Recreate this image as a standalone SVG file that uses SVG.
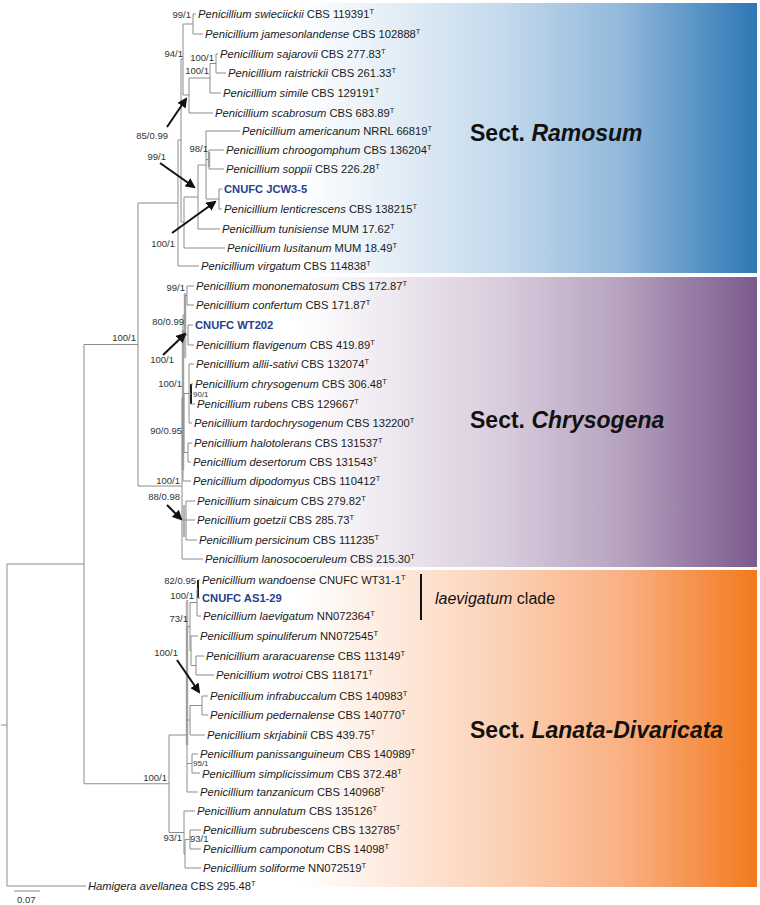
<svg xmlns="http://www.w3.org/2000/svg" width="760" height="905" viewBox="0 0 760 905">
<defs>
<linearGradient id="gR" gradientUnits="userSpaceOnUse" x1="300" y1="0" x2="757" y2="0">
<stop offset="0" stop-color="#ffffff"/><stop offset="0.45" stop-color="#c3d9ec"/><stop offset="0.7" stop-color="#93b9dc"/><stop offset="1" stop-color="#2d77b5"/>
</linearGradient>
<linearGradient id="gC" gradientUnits="userSpaceOnUse" x1="300" y1="0" x2="757" y2="0">
<stop offset="0" stop-color="#ffffff"/><stop offset="0.45" stop-color="#d8cbdc"/><stop offset="0.7" stop-color="#b7a3c0"/><stop offset="1" stop-color="#7a5a8c"/>
</linearGradient>
<linearGradient id="gL" gradientUnits="userSpaceOnUse" x1="300" y1="0" x2="757" y2="0">
<stop offset="0" stop-color="#ffffff"/><stop offset="0.45" stop-color="#fcd0b4"/><stop offset="0.7" stop-color="#fab185"/><stop offset="1" stop-color="#f27a1e"/>
</linearGradient>
<marker id="ah" markerWidth="5" markerHeight="5" refX="4" refY="2.5" orient="auto" markerUnits="strokeWidth">
<path d="M0,0 L5,2.5 L0,5 z" fill="#111"/>
</marker>
<style>
.b{stroke:#8c8c8c;stroke-width:1;fill:none}
.k{stroke:#222;stroke-width:2;fill:none}
.g{stroke:#b5b5b5;stroke-width:2.5;fill:none}
.t{font-family:"Liberation Sans",Arial,sans-serif;font-size:11.2px;fill:#1a1a1a}
.i{font-style:italic}
.s{font-size:7.5px}
.c{font-family:"Liberation Sans",Arial,sans-serif;font-size:11.2px;font-weight:bold;fill:#263f8f}
.n{font-family:"Liberation Sans",Arial,sans-serif;font-size:9.5px;fill:#333;text-anchor:end}
.ns{font-family:"Liberation Sans",Arial,sans-serif;font-size:9.5px;fill:#333}
.sm{font-family:"Liberation Sans",Arial,sans-serif;font-size:8px;fill:#333}
.a{stroke:#111;stroke-width:2;fill:none;marker-end:url(#ah)}
.sec{font-family:"Liberation Sans",Arial,sans-serif;font-size:23px;font-weight:bold;fill:#111}
</style>
</defs>
<rect width="760" height="905" fill="#ffffff"/>
<g id="bands">
<rect x="180" y="3" width="577" height="270" fill="url(#gR)"/>
<rect x="180" y="277" width="577" height="290" fill="url(#gC)"/>
<rect x="180" y="570" width="577" height="317" fill="url(#gL)"/>
</g>
<g id="connectors">
<path class="g" d="M209,152V167 M185,293V358 M183,330V470 M184,505V537 M187,600V745"/>
<path class="b" d="M193,14V34 M193,14H196 M193,34H203 M183,24H193"/>
<path class="b" d="M216,54V73 M216,54H218 M216,73H226 M210,63.5H216"/>
<path class="b" d="M210,63.5V93 M210,93H221 M189,78H210"/>
<path class="b" d="M189,78V113 M189,113H213 M183,95H189"/>
<path class="b" d="M183,24V95 M181,59H183"/>
<path class="b" d="M209,150V169 M209,150H224 M209,169H224 M206,159.5H209"/>
<path class="b" d="M219,189V209 M219,189H222 M219,209H222 M206,199H219"/>
<path class="b" d="M206,131V199 M206,131H240 M198,165H206"/>
<path class="b" d="M198,165V229 M198,229H220 M184,197H198"/>
<path class="b" d="M184,197V248 M184,248H225 M181,222H184"/>
<path class="b" d="M181,59V222 M178,140H181"/>
<path class="b" d="M178,140V266 M178,266H199 M138,203H178"/>
<path class="b" d="M138,203V486 M84,344.5H138"/>
<path class="b" d="M187,286V305 M187,286H194 M187,305H194 M185,295.5H187"/>
<path class="b" d="M188,325V345 M188,325H193 M188,345H194 M185,335H188"/>
<path class="b" d="M185,295.5V335 M183,315H185"/>
<path class="k" d="M191,384V404"/>
<path class="b" d="M191,384H193 M191,404H195 M189,394H191"/>
<path class="b" d="M189,364V423 M189,364H194 M189,423H192 M184,393.5H189"/>
<path class="b" d="M188,443V462 M188,443H192 M188,462H191 M184,452.5H188"/>
<path class="b" d="M184,393.5V452.5 M183,423H184"/>
<path class="b" d="M183,315V481 M183,481H191 M182,398H183"/>
<path class="b" d="M186,501V540 M186,501H195 M186,520H195 M186,540H197 M182,520H186"/>
<path class="b" d="M182,398V559 M182,559H203 M138,486H182"/>
<path class="k" d="M198,580V598"/>
<path class="b" d="M198,580H200 M198,598H200 M197,589H198"/>
<path class="b" d="M197,589V616 M197,616H201 M190,602.5H197"/>
<path class="b" d="M196,656V675 M196,656H204 M196,675H214 M191,665.5H196"/>
<path class="b" d="M191,636V665.5 M191,636H198 M190,650.75H191"/>
<path class="b" d="M190,602.5V650.75 M187,626.6H190"/>
<path class="b" d="M202,696V715 M202,696H208 M202,715H208 M190,705.5H202"/>
<path class="b" d="M190,705.5V735 M190,735H205 M187,720H190"/>
<path class="b" d="M192,754V773 M192,754H198 M192,773H200 M187,763.5H192"/>
<path class="b" d="M187,626.6V792 M187,792H198 M169,735H187"/>
<path class="b" d="M190,830V849 M190,830H201 M190,849H201 M185,839.5H190"/>
<path class="b" d="M185,839.5V868 M185,868H201 M184,854H185"/>
<path class="b" d="M184,811V854 M184,811H195 M169,832.5H184"/>
<path class="b" d="M169,735V832.5 M84,783.75H169"/>
<path class="b" d="M84,344.5V783.75 M7,564H84"/>
<path class="b" d="M7,564V886 M7,886H86 M1,725H7"/>
<path class="b" d="M14,891H40"/>
<path d="M421,574V620" stroke="#111" stroke-width="2"/>
<path class="a" d="M167,127L186,99"/>
<path class="a" d="M160,163L194,187"/>
<path class="a" d="M172,233L215,202"/>
<path class="a" d="M163,355L185,334"/>
<path class="a" d="M167,505L181,519"/>
<path class="a" d="M177,660L199,692"/>
</g>
<g id="supports">
<text class="n" x="191" y="18">99/1</text>
<text class="n" x="183" y="57">94/1</text>
<text class="n" x="214" y="61">100/1</text>
<text class="n" x="209" y="74">100/1</text>
<text class="n" x="168" y="139">85/0.99</text>
<text class="n" x="208" y="152">98/1</text>
<text class="n" x="166" y="160">99/1</text>
<text class="n" x="175" y="247">100/1</text>
<text class="n" x="136" y="341">100/1</text>
<text class="n" x="185" y="291">99/1</text>
<text class="n" x="184" y="325">80/0.99</text>
<text class="n" x="174" y="363">100/1</text>
<text class="n" x="182" y="387">100/1</text>
<text class="sm" x="193" y="397">90/1</text>
<text class="n" x="182" y="434">90/0.95</text>
<text class="n" x="180" y="484">100/1</text>
<text class="n" x="180" y="500">88/0.98</text>
<text class="n" x="196" y="584">82/0.95</text>
<text class="n" x="194" y="599">100/1</text>
<text class="n" x="188" y="622">73/1</text>
<text class="n" x="178" y="656">100/1</text>
<text class="sm" x="193" y="766">95/1</text>
<text class="n" x="167" y="781">100/1</text>
<text class="n" x="182" y="841">93/1</text>
<text class="ns" x="190" y="842">93/1</text>
<text class="ns" x="17" y="903">0.07</text>
</g>
<g id="taxa">
<g id="t1"><text class="t" x="198" y="18"><tspan class="i">Penicillium swieciickii</tspan> CBS 119391<tspan class="s" dy="-4">T</tspan></text></g>
<g id="t2"><text class="t" x="205" y="38"><tspan class="i">Penicillium jamesonlandense</tspan> CBS 102888<tspan class="s" dy="-4">T</tspan></text></g>
<g id="t3"><text class="t" x="220" y="58"><tspan class="i">Penicillium sajarovii</tspan> CBS 277.83<tspan class="s" dy="-4">T</tspan></text></g>
<g id="t4"><text class="t" x="228" y="77"><tspan class="i">Penicillium raistrickii</tspan> CBS 261.33<tspan class="s" dy="-4">T</tspan></text></g>
<g id="t5"><text class="t" x="223" y="97"><tspan class="i">Penicillium simile</tspan> CBS 129191<tspan class="s" dy="-4">T</tspan></text></g>
<g id="t6"><text class="t" x="215" y="117"><tspan class="i">Penicillium scabrosum</tspan> CBS 683.89<tspan class="s" dy="-4">T</tspan></text></g>
<g id="t7"><text class="t" x="242" y="135"><tspan class="i">Penicillium americanum</tspan> NRRL 66819<tspan class="s" dy="-4">T</tspan></text></g>
<g id="t8"><text class="t" x="226" y="154"><tspan class="i">Penicillium chroogomphum</tspan> CBS 136204<tspan class="s" dy="-4">T</tspan></text></g>
<g id="t9"><text class="t" x="226" y="173"><tspan class="i">Penicillium soppii</tspan> CBS 226.28<tspan class="s" dy="-4">T</tspan></text></g>
<g id="t10"><text class="c" x="224" y="193">CNUFC JCW3-5</text></g>
<g id="t11"><text class="t" x="224" y="213"><tspan class="i">Penicillium lenticrescens</tspan> CBS 138215<tspan class="s" dy="-4">T</tspan></text></g>
<g id="t12"><text class="t" x="222" y="233"><tspan class="i">Penicillium tunisiense</tspan> MUM 17.62<tspan class="s" dy="-4">T</tspan></text></g>
<g id="t13"><text class="t" x="227" y="252"><tspan class="i">Penicillium lusitanum</tspan> MUM 18.49<tspan class="s" dy="-4">T</tspan></text></g>
<g id="t14"><text class="t" x="201" y="270"><tspan class="i">Penicillium virgatum</tspan> CBS 114838<tspan class="s" dy="-4">T</tspan></text></g>
<g id="t15"><text class="t" x="196" y="290"><tspan class="i">Penicillium mononematosum</tspan> CBS 172.87<tspan class="s" dy="-4">T</tspan></text></g>
<g id="t16"><text class="t" x="196" y="309"><tspan class="i">Penicillium confertum</tspan> CBS 171.87<tspan class="s" dy="-4">T</tspan></text></g>
<g id="t17"><text class="c" x="195" y="329">CNUFC WT202</text></g>
<g id="t18"><text class="t" x="196" y="349"><tspan class="i">Penicillium flavigenum</tspan> CBS 419.89<tspan class="s" dy="-4">T</tspan></text></g>
<g id="t19"><text class="t" x="196" y="368"><tspan class="i">Penicillium allii-sativi</tspan> CBS 132074<tspan class="s" dy="-4">T</tspan></text></g>
<g id="t20"><text class="t" x="195" y="388"><tspan class="i">Penicillium chrysogenum</tspan> CBS 306.48<tspan class="s" dy="-4">T</tspan></text></g>
<g id="t21"><text class="t" x="197" y="408"><tspan class="i">Penicillium rubens</tspan> CBS 129667<tspan class="s" dy="-4">T</tspan></text></g>
<g id="t22"><text class="t" x="194" y="427"><tspan class="i">Penicillium tardochrysogenum</tspan> CBS 132200<tspan class="s" dy="-4">T</tspan></text></g>
<g id="t23"><text class="t" x="194" y="447"><tspan class="i">Penicillium halotolerans</tspan> CBS 131537<tspan class="s" dy="-4">T</tspan></text></g>
<g id="t24"><text class="t" x="193" y="466"><tspan class="i">Penicillium desertorum</tspan> CBS 131543<tspan class="s" dy="-4">T</tspan></text></g>
<g id="t25"><text class="t" x="193" y="485"><tspan class="i">Penicillium dipodomyus</tspan> CBS 110412<tspan class="s" dy="-4">T</tspan></text></g>
<g id="t26"><text class="t" x="197" y="505"><tspan class="i">Penicillium sinaicum</tspan> CBS 279.82<tspan class="s" dy="-4">T</tspan></text></g>
<g id="t27"><text class="t" x="197" y="524"><tspan class="i">Penicillium goetzii</tspan> CBS 285.73<tspan class="s" dy="-4">T</tspan></text></g>
<g id="t28"><text class="t" x="199" y="544"><tspan class="i">Penicillium persicinum</tspan> CBS 111235<tspan class="s" dy="-4">T</tspan></text></g>
<g id="t29"><text class="t" x="205" y="563"><tspan class="i">Penicillium lanosocoeruleum</tspan> CBS 215.30<tspan class="s" dy="-4">T</tspan></text></g>
<g id="t30"><text class="t" x="202" y="584"><tspan class="i">Penicillium wandoense</tspan> CNUFC WT31-1<tspan class="s" dy="-4">T</tspan></text></g>
<g id="t31"><text class="c" x="202" y="602">CNUFC AS1-29</text></g>
<g id="t32"><text class="t" x="203" y="620"><tspan class="i">Penicillium laevigatum</tspan> NN072364<tspan class="s" dy="-4">T</tspan></text></g>
<g id="t33"><text class="t" x="200" y="640"><tspan class="i">Penicillium spinuliferum</tspan> NN072545<tspan class="s" dy="-4">T</tspan></text></g>
<g id="t34"><text class="t" x="206" y="660"><tspan class="i">Penicillium araracuarense</tspan> CBS 113149<tspan class="s" dy="-4">T</tspan></text></g>
<g id="t35"><text class="t" x="216" y="679"><tspan class="i">Penicillium wotroi</tspan> CBS 118171<tspan class="s" dy="-4">T</tspan></text></g>
<g id="t36"><text class="t" x="210" y="700"><tspan class="i">Penicillium infrabuccalum</tspan> CBS 140983<tspan class="s" dy="-4">T</tspan></text></g>
<g id="t37"><text class="t" x="210" y="719"><tspan class="i">Penicillium pedernalense</tspan> CBS 140770<tspan class="s" dy="-4">T</tspan></text></g>
<g id="t38"><text class="t" x="207" y="739"><tspan class="i">Penicillium skrjabinii</tspan> CBS 439.75<tspan class="s" dy="-4">T</tspan></text></g>
<g id="t39"><text class="t" x="200" y="758"><tspan class="i">Penicillium panissanguineum</tspan> CBS 140989<tspan class="s" dy="-4">T</tspan></text></g>
<g id="t40"><text class="t" x="202" y="778"><tspan class="i">Penicillium simplicissimum</tspan> CBS 372.48<tspan class="s" dy="-4">T</tspan></text></g>
<g id="t41"><text class="t" x="200" y="796"><tspan class="i">Penicillium tanzanicum</tspan> CBS 140968<tspan class="s" dy="-4">T</tspan></text></g>
<g id="t42"><text class="t" x="197" y="815"><tspan class="i">Penicillium annulatum</tspan> CBS 135126<tspan class="s" dy="-4">T</tspan></text></g>
<g id="t43"><text class="t" x="203" y="834"><tspan class="i">Penicillium subrubescens</tspan> CBS 132785<tspan class="s" dy="-4">T</tspan></text></g>
<g id="t44"><text class="t" x="203" y="853"><tspan class="i">Penicillium camponotum</tspan> CBS 14098<tspan class="s" dy="-4">T</tspan></text></g>
<g id="t45"><text class="t" x="203" y="872"><tspan class="i">Penicillium soliforme</tspan> NN072519<tspan class="s" dy="-4">T</tspan></text></g>
<g id="t46"><text class="t" x="88" y="890"><tspan class="i">Hamigera avellanea</tspan> CBS 295.48<tspan class="s" dy="-4">T</tspan></text></g>
</g>
<g id="sections">
<text class="sec" x="470" y="141">Sect. <tspan font-style="italic">Ramosum</tspan></text>
<text class="sec" x="470" y="428">Sect. <tspan font-style="italic">Chrysogena</tspan></text>
<text class="sec" x="470" y="738">Sect. <tspan font-style="italic">Lanata-Divaricata</tspan></text>
<text x="435" y="604" font-family="Liberation Sans, Arial, sans-serif" font-size="16" fill="#111"><tspan font-style="italic">laevigatum</tspan> clade</text>
</g>
</svg>
